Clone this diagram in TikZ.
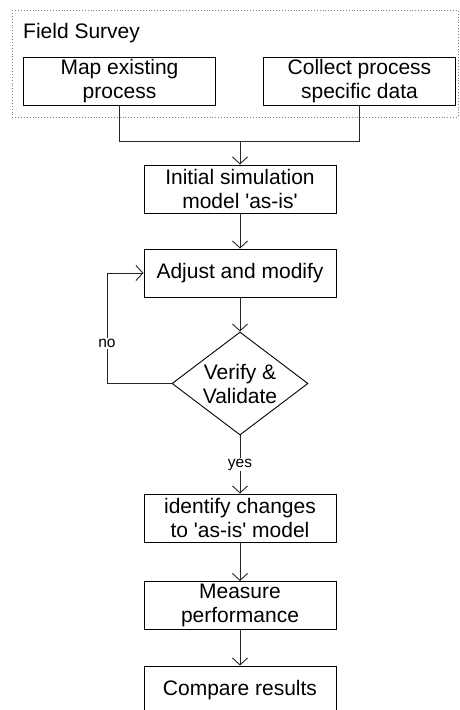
\documentclass[tikz,border=0pt]{standalone}
\usepackage{fontspec}
\setmainfont{Liberation Sans}
\usetikzlibrary{arrows.meta,shapes.geometric}
\begin{document}
\begin{tikzpicture}[x=1pt,y=-1pt,
  box/.style={draw, line width=0.9pt, minimum width=192pt, minimum height=48pt, inner sep=0pt, align=center, font=\fontsize{21}{24}\selectfont},
  conn/.style={line width=0.9pt, draw=black!85},
  arr/.style={conn, -{Straight Barb[length=7pt,width=15pt,line width=0.9pt]}},
  lbl/.style={fill=white, inner sep=1pt, font=\fontsize{15.5}{18}\selectfont}]
\clip (0,0) rectangle (459,710);
\draw[dotted, gray, line width=0.9pt] (12,10) rectangle (458,117);
\node[anchor=west, inner sep=0pt, font=\fontsize{21}{24}\selectfont] (fs) at (23,33) {Field Survey};
\node[box] (b1) at (119.5,81) {Map existing\\process};
\node[box] (b2) at (359.5,81) {Collect process\\specific data};
\node[box] (b3) at (240,189) {Initial simulation\\model \textquotesingle as-is\textquotesingle};
\node[box] (b4) at (240,273) {Adjust and modify};
\node[diamond, draw, line width=0.9pt, minimum width=136pt, minimum height=103pt, inner sep=0pt] (d) at (240,383.5) {};
\node[align=center, inner sep=0pt, font=\fontsize{21}{24}\selectfont] (dt) at (d.center) {Verify \&\\Validate};
\node[box] (b5) at (240,518) {identify changes\\to \textquotesingle as-is\textquotesingle{} model};
\node[box] (b6) at (240,605.5) {Measure\\performance};
\node[box] (b7) at (240,690) {Compare results};
\coordinate (j) at (240,141);
\coordinate (lp) at (107,383.5);
\draw[conn] (b1.south) |- (j);
\draw[conn] (b2.south) |- (j);
\draw[arr] (j) -- (b3.north);
\draw[arr] (b3) -- (b4);
\draw[arr] (b4) -- (d.north);
\draw[arr] (d.west) -- (lp) -- node[lbl, pos=0.36] {no} (lp |- b4.west) -- (b4.west);
\draw[arr] (d.south) -- node[lbl, pos=0.5] {yes} (b5.north);
\draw[arr] (b5) -- (b6);
\draw[arr] (b6) -- (b7);
\end{tikzpicture}
\end{document}
